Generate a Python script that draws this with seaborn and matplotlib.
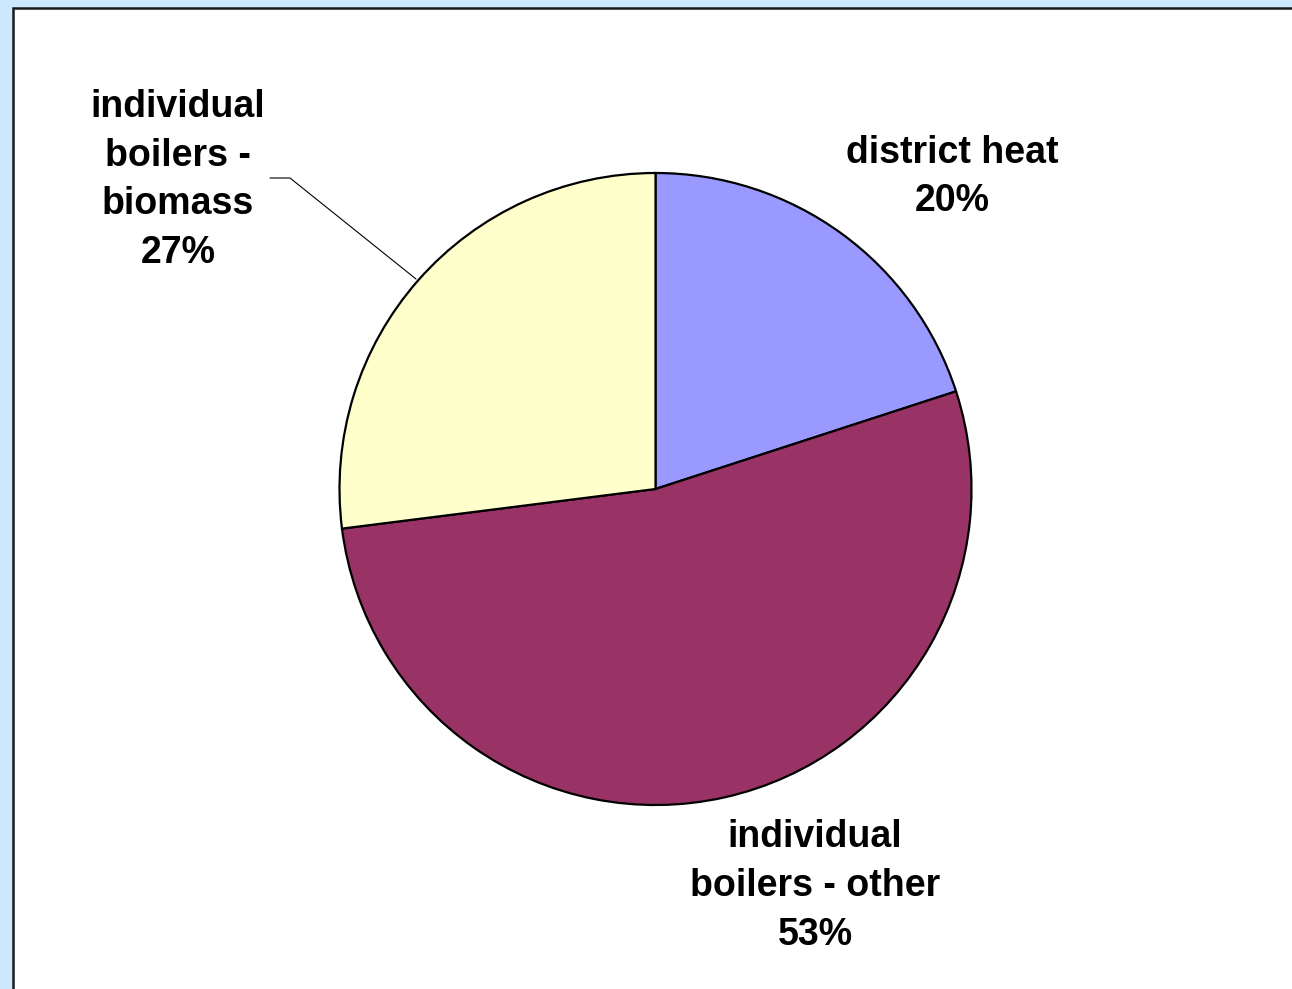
import matplotlib
matplotlib.use("Agg")
import matplotlib.pyplot as plt
import seaborn as sns
from matplotlib.patches import Rectangle

# data
categories = ['district heat', 'individual\nboilers - other', 'individual\nboilers -\nbiomass']
shares = [20, 53, 27]
colors = ['#9999FF', '#993366', '#FFFFCC']

sns.set_theme(style="white")
plt.rcParams['font.family'] = ['Liberation Sans', 'DejaVu Sans']

W, H = 1292, 989
fig = plt.figure(figsize=(W / 100, H / 100), dpi=100)
fig.patch.set_facecolor('#CCE8FF')

# white panel with dark border on top/left
panel = Rectangle((13 / W, -0.01), 1 - 13 / W + 0.01, 1 - 8 / H + 0.01, transform=fig.transFigure,
                  facecolor='white', edgecolor='#1a1a1a', linewidth=1.8, zorder=-10)
fig.patches.append(panel)

cx, cy, r = 655.5, 489, 316
ax = fig.add_axes([(cx - r) / W, (H - cy - r) / H, 2 * r / W, 2 * r / H])
ax.set_facecolor('none')

wedges, _ = ax.pie(shares, colors=colors, startangle=90, counterclock=False,
                   wedgeprops=dict(edgecolor='black', linewidth=1.6))
ax.set_xlim(-1, 1)
ax.set_ylim(-1, 1)
ax.set_aspect('equal')
ax.axis('off')


def px(x, y):
    return (x - cx) / r, (cy - y) / r


label_pos = [px(952, 177), px(815, 886), px(178, 180)]
for name, val, (lx, ly) in zip(categories, shares, label_pos):
    ax.text(lx, ly, f"{name}\n{val}%", ha='center', va='center', fontsize=27,
            fontweight='bold', linespacing=1.45, color='black')

# leader line for biomass label
pts = [px(270, 178), px(290, 178), px(416, 279)]
ax.plot([p[0] for p in pts], [p[1] for p in pts], color='black', linewidth=0.8,
        clip_on=False)

fig.savefig('out.png', dpi=100, facecolor=fig.get_facecolor())
